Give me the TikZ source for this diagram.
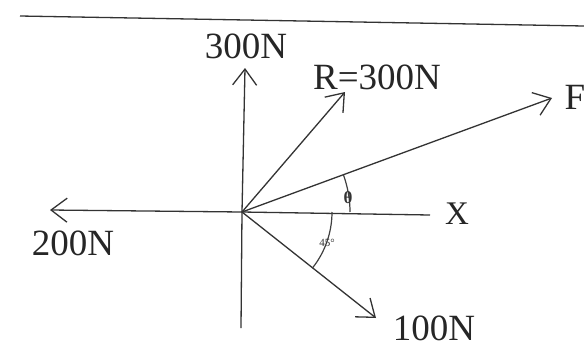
\documentclass[tikz,border=0pt]{standalone}
\usepackage{fontspec}
\setmainfont{Liberation Serif}
\usetikzlibrary{arrows.meta}
\begin{document}
\begin{tikzpicture}[x=1pt,y=-1pt,
  vec/.style={draw=black!80,line width=1.3pt,-{Straight Barb[length=16pt,width=24pt,line width=1.3pt]}},
  ax/.style={draw=black!80,line width=1.3pt},
  lbl/.style={inner sep=0pt,font=\fontsize{37}{40}\selectfont,text=black!85},
  small/.style={inner sep=0pt,text=black!80}]
\useasboundingbox (0,0) rectangle (584,354);
\fill[white] (0,0) rectangle (584,354);
% top rule
\coordinate (tl) at (20,16);
\coordinate (tr) at (584,26);
\draw[ax] (tl) -- (tr);
% origin and ends
\coordinate (O) at (242,212);
\coordinate (up) at (245,68);
\coordinate (down) at (241,328);
\coordinate (left) at (50,210);
\coordinate (right) at (430,215);
\coordinate (R) at (345,92);
\coordinate (F) at (552,98);
\coordinate (H) at (376,318);
% axes
\draw[ax] (O) -- (down);
\draw[ax] (O) -- (right);
\draw[vec] (O) -- (up);
\draw[vec] (O) -- (left);
\draw[vec] (O) -- (R);
\draw[vec] (O) -- (F);
\draw[vec] (O) -- (H);
% angle arcs
\draw[draw=black!75,line width=1.2pt] ([shift={(0:108)}]O) arc[start angle=0,end angle=-20.2,radius=108];
\draw[draw=black!75,line width=1.2pt] ([shift={(0:90)}]O) arc[start angle=0,end angle=38.6,radius=90];
% labels
\node[lbl] (l300) at (246,46) {300N};
\node[lbl] (lR) at (377,77) {R=300N};
\node[lbl] (lF) at (575,97) {F};
\node[lbl,font=\fontsize{33}{36}\selectfont] (lX) at (457,214) {X};
\node[lbl] (l200) at (73,243) {200N};
\node[lbl] (l100) at (434,328) {100N};
\node[small,font=\fontsize{17}{19}\selectfont\bfseries] (th) at (348,198) {θ};
\node[small,font=\fontsize{11}{13}\selectfont] (l45) at (327,243) {45°};
\end{tikzpicture}
\end{document}
